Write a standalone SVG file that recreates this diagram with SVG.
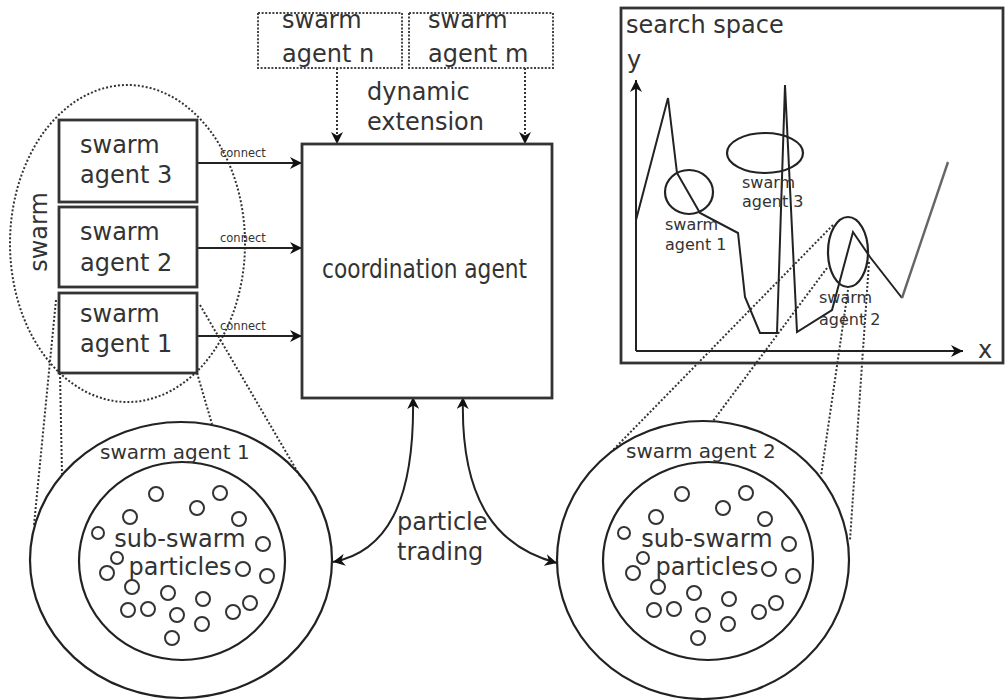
<svg xmlns="http://www.w3.org/2000/svg" xmlns:xlink="http://www.w3.org/1999/xlink" width="1008" height="700" viewBox="0 0 1008 700">
<style>
.t{font-family:"DejaVu Sans","Liberation Sans",sans-serif;fill:#333}
.box{fill:#fff;stroke:#333;stroke-width:2.8}
.dot{fill:none;stroke:#333;stroke-width:2;stroke-dasharray:2 2}
.dotbox{fill:#fff;stroke:#444;stroke-width:2;stroke-dasharray:2 1.6}
.ln{fill:none;stroke:#222;stroke-width:2}
.circ{fill:none;stroke:#222;stroke-width:2.2}
.p{fill:none;stroke:#333;stroke-width:2}
</style>
<defs>
<marker id="ah" viewBox="0 0 10 10" refX="10" refY="5" markerWidth="12" markerHeight="12" markerUnits="userSpaceOnUse" orient="auto-start-reverse">
<path d="M0,0 L10,5 L0,10 L3,5 z" fill="#111"/>
</marker>
<g id="particles">
<circle class="p" cx="-26" cy="-67" r="7"/><circle class="p" cx="38" cy="-68" r="7"/><circle class="p" cx="15" cy="-53" r="7"/>
<circle class="p" cx="-52" cy="-44" r="7"/><circle class="p" cx="57" cy="-42" r="7"/><circle class="p" cx="-84" cy="-28" r="6"/>
<circle class="p" cx="81" cy="-17" r="7"/><circle class="p" cx="-65" cy="-3" r="6"/><circle class="p" cx="-75" cy="12" r="7"/>
<circle class="p" cx="61" cy="8" r="7"/><circle class="p" cx="85" cy="15" r="7"/><circle class="p" cx="-50" cy="26" r="7"/>
<circle class="p" cx="-14" cy="32" r="7"/><circle class="p" cx="21" cy="38" r="7"/><circle class="p" cx="-54" cy="49" r="7"/>
<circle class="p" cx="-34" cy="48" r="7"/><circle class="p" cx="-5" cy="54" r="7"/><circle class="p" cx="51" cy="51" r="7"/>
<circle class="p" cx="68" cy="42" r="7"/><circle class="p" cx="20" cy="63" r="7"/><circle class="p" cx="-10" cy="77" r="7"/>
</g>
</defs>
<rect width="1008" height="700" fill="#fff"/>

<g id="swarm-group">
<ellipse class="dot" cx="127.5" cy="243.5" rx="117.5" ry="158.5"/>
<text class="t" font-size="24" transform="translate(47,232) rotate(-90)" text-anchor="middle">swarm</text>
</g>

<g id="connectors">
<line class="ln" x1="197" y1="163" x2="302" y2="163" marker-end="url(#ah)"/>
<line class="ln" x1="197" y1="248" x2="302" y2="248" marker-end="url(#ah)"/>
<line class="ln" x1="197" y1="336" x2="302" y2="336" marker-end="url(#ah)"/>
<text class="t" font-size="11.5" x="220" y="157">connect</text>
<text class="t" font-size="11.5" x="220" y="242">connect</text>
<text class="t" font-size="11.5" x="220" y="330">connect</text>
<line class="dot" x1="337" y1="68" x2="337" y2="144" marker-end="url(#ah)"/>
<line class="dot" x1="525" y1="68" x2="525" y2="144" marker-end="url(#ah)"/>
<path class="ln" d="M413,397 C415,505 385,552 333,562" marker-start="url(#ah)" marker-end="url(#ah)"/>
<path class="ln" d="M463,397 C460,505 500,548 557,563" marker-start="url(#ah)" marker-end="url(#ah)"/>
<line class="dot" x1="56" y1="300" x2="34" y2="525"/>
<line class="dot" x1="60" y1="373" x2="62" y2="474"/>
<line class="dot" x1="197" y1="373" x2="212" y2="424"/>
<line class="dot" x1="200" y1="305" x2="300" y2="476"/>
<line class="dot" x1="833" y1="225" x2="613" y2="450"/>
<line class="dot" x1="827" y1="268" x2="713" y2="421"/>
<line class="dot" x1="848" y1="290" x2="821" y2="476"/>
<line class="dot" x1="869" y1="262" x2="850" y2="540"/>
</g>

<g id="swarm-agent-3">
<rect class="box" x="59" y="120" width="138" height="82"/>
<text class="t" font-size="24" x="80" y="153">swarm</text>
<text class="t" font-size="24" x="80" y="183">agent 3</text>
</g>
<g id="swarm-agent-2">
<rect class="box" x="59" y="207" width="138" height="80"/>
<text class="t" font-size="24" x="80" y="240">swarm</text>
<text class="t" font-size="24" x="80" y="271">agent 2</text>
</g>
<g id="swarm-agent-1">
<rect class="box" x="59" y="293" width="138" height="80"/>
<text class="t" font-size="24" x="80" y="322">swarm</text>
<text class="t" font-size="24" x="80" y="352">agent 1</text>
</g>

<g id="swarm-agent-n">
<rect class="dotbox" x="258" y="13" width="144" height="55"/>
<text class="t" font-size="24" x="282" y="28">swarm</text>
<text class="t" font-size="24" x="282" y="62">agent n</text>
</g>
<g id="swarm-agent-m">
<rect class="dotbox" x="409" y="13" width="144" height="55"/>
<text class="t" font-size="24" x="428" y="28">swarm</text>
<text class="t" font-size="24" x="428" y="62">agent m</text>
</g>
<g id="dynamic-extension">
<text class="t" font-size="24" x="367" y="100">dynamic</text>
<text class="t" font-size="24" x="367" y="130">extension</text>
</g>

<g id="coordination-agent">
<rect class="box" x="302" y="144" width="250" height="254"/>
<text class="t" font-size="26" x="322" y="278" textLength="205" lengthAdjust="spacingAndGlyphs">coordination agent</text>
</g>

<g id="particle-trading">
<text class="t" font-size="24" x="397" y="530">particle</text>
<text class="t" font-size="24" x="397" y="560">trading</text>
</g>

<g id="sub-swarm-1">
<ellipse class="circ" cx="181" cy="560" rx="151" ry="138"/>
<ellipse class="circ" cx="182" cy="561" rx="103" ry="99"/>
<text class="t" font-size="20" x="100" y="459">swarm agent 1</text>
<text class="t" font-size="24" x="180" y="547" text-anchor="middle">sub-swarm</text>
<text class="t" font-size="24" x="180" y="575" text-anchor="middle">particles</text>
<use xlink:href="#particles" href="#particles" x="182" y="561"/>
</g>

<g id="sub-swarm-2">
<ellipse class="circ" cx="703" cy="560" rx="146" ry="139"/>
<ellipse class="circ" cx="708" cy="561" rx="105" ry="99"/>
<text class="t" font-size="20" x="626" y="458">swarm agent 2</text>
<text class="t" font-size="24" x="707" y="547" text-anchor="middle">sub-swarm</text>
<text class="t" font-size="24" x="707" y="575" text-anchor="middle">particles</text>
<use xlink:href="#particles" href="#particles" x="708" y="561"/>
</g>

<g id="search-space">
<rect x="621" y="8" width="382" height="355" fill="none" stroke="#333" stroke-width="2.8"/>
<text class="t" font-size="24" x="626" y="33">search space</text>
<text class="t" font-size="24" x="627" y="68">y</text>
<text class="t" font-size="24" x="978" y="358">x</text>
<line class="ln" x1="636" y1="351" x2="636" y2="80" marker-end="url(#ah)"/>
<line class="ln" x1="636" y1="351" x2="963" y2="351" marker-end="url(#ah)"/>
<polyline class="ln" points="636,220 668,98 677,173 700,213 738,233 745,297 760,333 777,333 785,85 797,332 832,310 853,232 870,257 902,298"/>
<line x1="902" y1="298" x2="948" y2="162" stroke="#666" stroke-width="2.4"/>
<ellipse class="circ" cx="689" cy="192" rx="24" ry="22"/>
<ellipse class="circ" cx="765" cy="153" rx="38" ry="20"/>
<ellipse class="circ" cx="848" cy="252" rx="20" ry="35"/>
<text class="t" font-size="16" x="665" y="230">swarm</text>
<text class="t" font-size="16" x="665" y="250">agent 1</text>
<text class="t" font-size="16" x="742" y="188">swarm</text>
<text class="t" font-size="16" x="742" y="207">agent 3</text>
<text class="t" font-size="16" x="819" y="303">swarm</text>
<text class="t" font-size="16" x="819" y="325">agent 2</text>
</g>
</svg>
